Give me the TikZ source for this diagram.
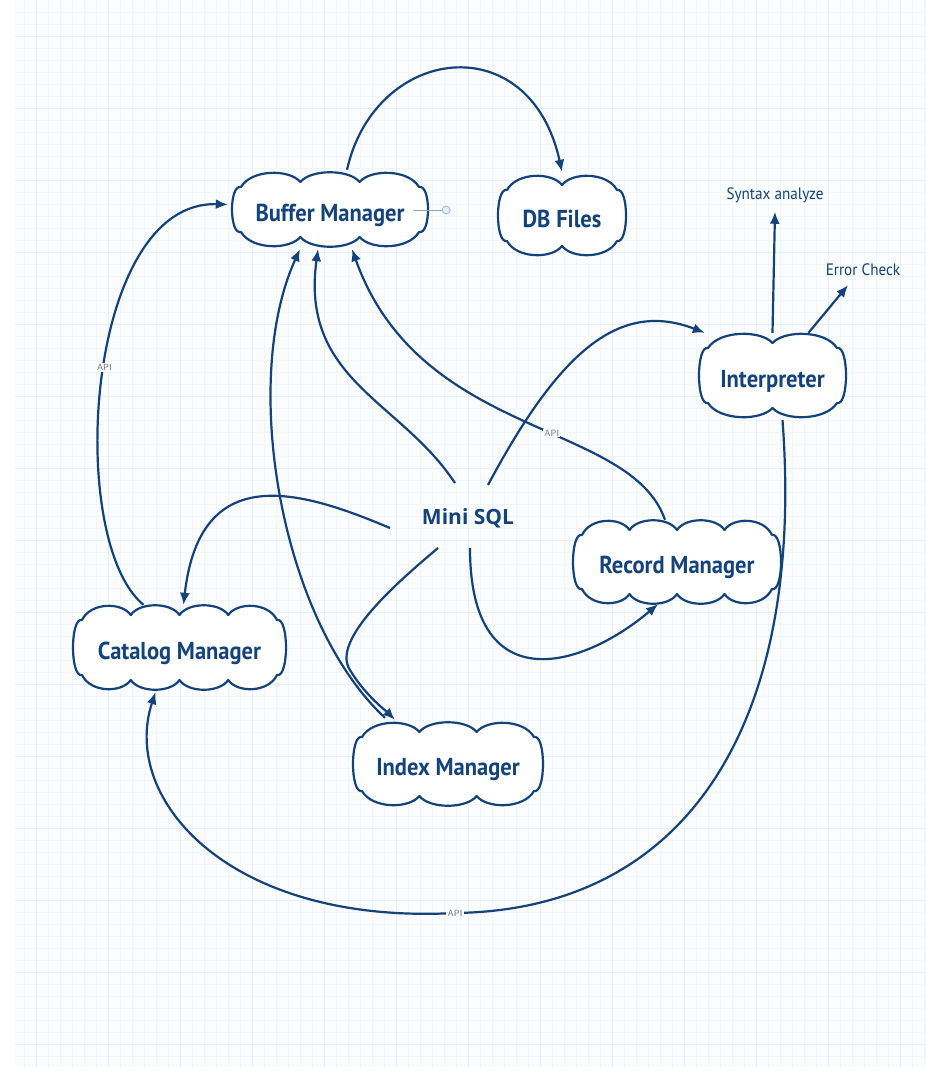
\documentclass[tikz,border=0pt]{standalone}
\usepackage{fontspec}
\usetikzlibrary{arrows.meta,calc}
\newfontfamily\handfont[FakeStretch=0.92]{PT Sans}
\newfontfamily\titlefont{Open Sans}
\definecolor{ink}{RGB}{20,66,122}
\definecolor{gridminor}{RGB}{240,245,247}
\definecolor{gridmajor}{RGB}{230,239,243}
\definecolor{paper}{RGB}{250,252,253}
\definecolor{handleblue}{RGB}{150,180,215}
\tikzset{
  cloudline/.style={draw=ink, line width=2.2pt, fill=white, line join=round},
  cloudtext/.style={text=ink, font=\handfont\bfseries\fontsize{24.5}{29}\selectfont, inner sep=0pt, draw=none, text height=24pt, text depth=1pt},
  smalltext/.style={text=ink, font=\handfont\fontsize{16.5}{19}\selectfont, inner sep=0pt},
  titletext/.style={text=ink, font=\titlefont\bfseries\fontsize{21}{25}\selectfont, inner sep=2pt},
  conn/.style={draw=ink, line width=2.2pt, -{Latex[length=12pt,width=10pt]}},
  apilabel/.style={text=gray!90!black, font=\sffamily\fontsize{9}{10}\selectfont, fill=paper, inner sep=1.2pt},
  handleline/.style={draw=handleblue!70!gray, line width=0.8pt},
  handlecirc/.style={circle, draw=handleblue, fill=handleblue!25, line width=0.8pt, minimum size=8pt, inner sep=0pt},
}
% #1 name, #2 L, #3 T, #4 R, #5 B, #6 lobes, #7 text
\newcommand\mycloud[7]{%
  \pgfmathsetmacro\cL{#2}\pgfmathsetmacro\cT{#3}%
  \pgfmathsetmacro\cR{#4}\pgfmathsetmacro\cB{#5}%
  \pgfmathsetmacro\ce{9}\pgfmathsetmacro\ck{15}\pgfmathsetmacro\cc{10}%
  \pgfmathsetmacro\cw{(\cR-\cL-2*\ce)/#6}%
  \path[cloudline] ({\cL+\ce},{\cT+\ck})
    \foreach \i in {1,...,#6} {
      .. controls ({\cL+\ce+(\i-1)*\cw+0.18*\cw},{\cT-0.3*\cc}) and ({\cL+\ce+\i*\cw-0.18*\cw},{\cT-0.3*\cc})
      .. ({\cL+\ce+\i*\cw},{\cT+\cc+(\ck-\cc)*equal(\i,#6)})
    }
    .. controls ({\cR+\ce/3},{\cT+\ck-3}) and ({\cR+\ce/3},{\cB-\ck+3}) .. ({\cR-\ce},{\cB-\ck})
    \foreach \i in {#6,...,1} {
      .. controls ({\cL+\ce+\i*\cw-0.18*\cw},{\cB+0.3*\cc}) and ({\cL+\ce+(\i-1)*\cw+0.18*\cw},{\cB+0.3*\cc})
      .. ({\cL+\ce+(\i-1)*\cw},{\cB-\cc-(\ck-\cc)*equal(\i,1)})
    }
    .. controls ({\cL-\ce/3},{\cB-\ck+3}) and ({\cL-\ce/3},{\cT+\ck-3}) .. cycle;
  \node[cloudtext, minimum width={#4-#2}, minimum height={#5-#3}] (#1) at ({(#2+#4)/2},{(#3+#5)/2}) {#7};
}
\begin{document}
\begin{tikzpicture}[x=1pt,y=-1pt]
\useasboundingbox (0,0) rectangle (926,1082);
% paper and grid
\fill[white] (0,0) rectangle (926,1082);
\fill[paper] (15,0) rectangle (926,1067);
\foreach \x in {24,36,...,924} \draw[gridminor, line width=0.6pt] (\x,0) -- (\x,1067);
\foreach \y in {12,24,...,1060} \draw[gridminor, line width=0.6pt] (15,\y) -- (926,\y);
\foreach \x in {36,108,...,924} \draw[gridmajor, line width=1pt] (\x,0) -- (\x,1067);
\foreach \y in {36,108,...,1060} \draw[gridmajor, line width=1pt] (15,\y) -- (926,\y);

% clouds
\mycloud{buf}{232}{172}{428}{247}{3}{Buffer Manager}
\mycloud{db}{498}{175}{626}{256}{2}{DB Files}
\mycloud{interp}{699}{333}{846}{418}{2}{Interpreter}
\mycloud{rec}{573}{520}{781}{604}{4}{Record Manager}
\mycloud{cat}{73}{605}{286}{690}{4}{Catalog Manager}
\mycloud{idx}{353}{722}{543}{806}{3}{Index Manager}

\node[titletext] (sql) at (468,518) {Mini SQL};
\node[smalltext] (syn) at (775,195) {Syntax analyze};
\node[smalltext] (err) at (863,270) {Error Check};

% handle
\node[handlecirc] (hnd) at ($(buf.east)+(18,0.5)$) {};
\draw[handleline] ($(buf.east)+(-15,0.5)$) -- (hnd);

% connectors
\draw[conn] ($(buf.north)+(17,-2)$) .. controls (375,45) and (530,25) .. ($(db.north)+(0,-3)$);
\draw[conn] ($(cat.north)+(-36,0)$) .. controls (65,540) and (85,200) .. node[apilabel, pos=0.52] {API} ($(buf.west)+(-4,-5)$);
\draw[conn] ($(sql)+(-13,-35)$) .. controls (400,400) and (300,380) .. ($(buf.south)+(-12,2)$);
\draw[conn] ($(idx.north)+(-63,-4)$) .. controls (280,620) and (240,380) .. ($(buf.south)+(-30,2)$);
\draw[conn] ($(rec.north)+(-12,0)$) .. controls (630,420) and (420,440) .. node[apilabel, pos=0.42] {API} ($(buf.south)+(22,2)$);
\draw[conn] ($(sql)+(20,-33)$) .. controls (560,350) and (620,300) .. ($(interp.north west)+(6,0)$);
\draw[conn] ($(sql)+(-78,10)$) .. controls (300,490) and (200,460) .. ($(cat.north)+(4,0)$);
\draw[conn] ($(sql)+(2,30)$) .. controls (470,700) and (580,670) .. ($(rec.south)+(-19,0)$);
\draw[conn] ($(sql)+(-30,30)$) .. controls (400,580) and (330,640) .. (350,670) .. controls (365,695) and (385,710) .. ($(idx.north)+(-53,-2)$);
\draw[conn] ($(interp.south)+(10,2)$) .. controls (805,720) and (690,910) .. (455,913) node[apilabel] {API} .. controls (230,925) and (120,800) .. ($(cat.south)+(-24,2)$);
\draw[conn] (interp.north) -- ($(syn.south)+(0,9)$);
\draw[conn] ($(interp.north)+(36,0)$) -- ($(err.south)+(-15,9)$);
\end{tikzpicture}
\end{document}
